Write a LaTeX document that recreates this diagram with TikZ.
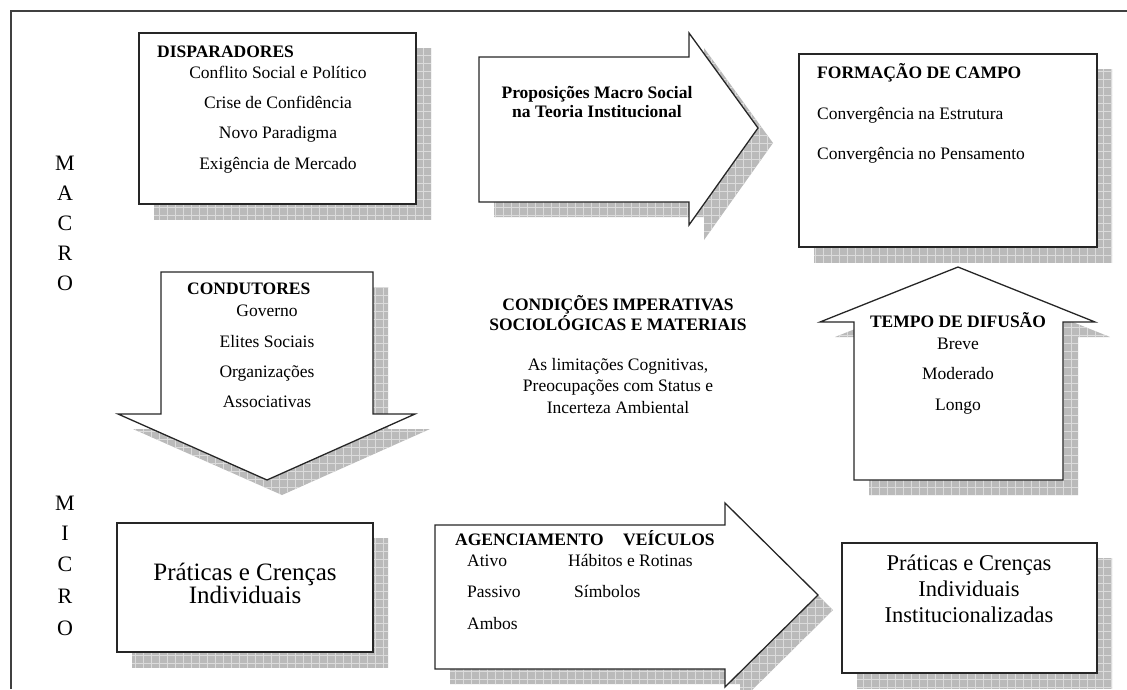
\documentclass[tikz,border=0pt]{standalone}
\usepackage{fontspec}
\setmainfont{Liberation Serif}
\begin{document}
\begin{tikzpicture}[x=1pt,y=-1pt,
  boxline/.style={draw=black!85,line width=1.3pt,line join=miter},
  shfill/.style={fill=black!27},
  shgrid/.style={draw=black!14,line width=0.5pt},
  frameline/.style={draw=black!75,line width=1.3pt},
  sm/.style={inner sep=0pt,font=\fontsize{17.5}{21}\selectfont},
  smb/.style={inner sep=0pt,font=\fontsize{17.5}{21}\selectfont\bfseries},
  big/.style={inner sep=0pt,font=\fontsize{22.5}{26}\selectfont},
  bigger/.style={inner sep=0pt,font=\fontsize{25}{28}\selectfont},
  lettr/.style={inner sep=0pt,font=\fontsize{22}{26}\selectfont}]
\useasboundingbox (0,0) rectangle (1127,689);
\newcommand\shpoly[1]{%
  \begin{scope}[shift={(15,15)}]
    \clip #1;
    \fill[shfill] (-20,-20) rectangle (1140,700);
    \draw[shgrid] (-24pt,24pt) grid[step=8pt] (1144pt,-704pt);
  \end{scope}
  \draw[boxline,fill=white] #1;}
% frame
\draw[frameline] (11,689) -- (11,11) -- (1127,11);
% shapes
\shpoly{(139,33) rectangle (416,204)}
\shpoly{(479,57) -- (689,57) -- (689,33) -- (758,128) -- (689,225) -- (689,202) -- (479,202) -- cycle}
\shpoly{(799,54) rectangle (1097,247)}
\shpoly{(161,272) -- (373,272) -- (373,414) -- (415,414) -- (267,480) -- (118,414) -- (161,414) -- cycle}
\shpoly{(958,267) -- (1095,322) -- (1063,322) -- (1063,480) -- (854,480) -- (854,322) -- (820,322) -- cycle}
\shpoly{(117,523) rectangle (373,652)}
\shpoly{(435,525) -- (725,525) -- (725,503) -- (818,595) -- (725,687) -- (725,669) -- (435,669) -- cycle}
\shpoly{(842,543) rectangle (1097,673)}
% MACRO / MICRO
\node[lettr] (ma1) at (65,163) {M};
\node[lettr] (ma2) at (65,193) {A};
\node[lettr] (ma3) at (65,223) {C};
\node[lettr] (ma4) at (65,253) {R};
\node[lettr] (ma5) at (65,283) {O};
\node[lettr] (mi1) at (65,503) {M};
\node[lettr] (mi2) at (65,533) {I};
\node[lettr] (mi3) at (65,564) {C};
\node[lettr] (mi4) at (65,596) {R};
\node[lettr] (mi5) at (65,628) {O};
% Disparadores
\node[smb,anchor=mid west] (d0) at (157,55) {DISPARADORES};
\node[sm,anchor=mid] (d1) at (278,76) {Conflito Social e Político};
\node[sm,anchor=mid] (d2) at (278,106) {Crise de Confidência};
\node[sm,anchor=mid] (d3) at (278,136) {Novo Paradigma};
\node[sm,anchor=mid] (d4) at (278,167) {Exigência de Mercado};
% Proposicoes
\node[smb,anchor=mid] (p1) at (597,96) {Proposições Macro Social};
\node[smb,anchor=mid] (p2) at (597,115) {na Teoria Institucional};
% Formacao
\node[smb,anchor=mid west] (f0) at (817,76) {FORMAÇÃO DE CAMPO};
\node[sm,anchor=mid west] (f1) at (817,117) {Convergência na Estrutura};
\node[sm,anchor=mid west] (f2) at (817,157) {Convergência no Pensamento};
% Condutores
\node[smb,anchor=mid west] (c0) at (187,292) {CONDUTORES};
\node[sm,anchor=mid] (c1) at (267,314) {Governo};
\node[sm,anchor=mid] (c2) at (267,345) {Elites Sociais};
\node[sm,anchor=mid] (c3) at (267,375) {Organizações};
\node[sm,anchor=mid] (c4) at (267,405) {Associativas};
% Center
\node[smb,anchor=mid] (k1) at (618,308) {CONDIÇÕES IMPERATIVAS};
\node[smb,anchor=mid] (k2) at (618,328) {SOCIOLÓGICAS E MATERIAIS};
\node[sm,anchor=mid] (k3) at (618,368) {As limitações Cognitivas,};
\node[sm,anchor=mid] (k4) at (618,389) {Preocupações com Status e};
\node[sm,anchor=mid] (k5) at (618,411) {Incerteza Ambiental};
% Tempo
\node[smb,anchor=mid] (t0) at (958,325) {TEMPO DE DIFUSÃO};
\node[sm,anchor=mid] (t1) at (958,347) {Breve};
\node[sm,anchor=mid] (t2) at (958,377) {Moderado};
\node[sm,anchor=mid] (t3) at (958,408) {Longo};
% Praticas
\node[bigger,anchor=mid] (r1) at (245,578) {Práticas e Crenças};
\node[bigger,anchor=mid] (r2) at (245,601) {Individuais};
% Agenciamento
\node[smb,anchor=mid west] (a0) at (455,543) {AGENCIAMENTO};
\node[smb,anchor=mid west] (v0) at (623,543) {VEÍCULOS};
\node[sm,anchor=mid west] (a1) at (467,564) {Ativo};
\node[sm,anchor=mid west] (v1) at (568,564) {Hábitos e Rotinas};
\node[sm,anchor=mid west] (a2) at (467,595) {Passivo};
\node[sm,anchor=mid west] (v2) at (574,595) {Símbolos};
\node[sm,anchor=mid west] (a3) at (467,627) {Ambos};
% Final
\node[big,anchor=mid] (i1) at (969,568) {Práticas e Crenças};
\node[big,anchor=mid] (i2) at (969,594) {Individuais};
\node[big,anchor=mid] (i3) at (969,620) {Institucionalizadas};
\end{tikzpicture}
\end{document}
